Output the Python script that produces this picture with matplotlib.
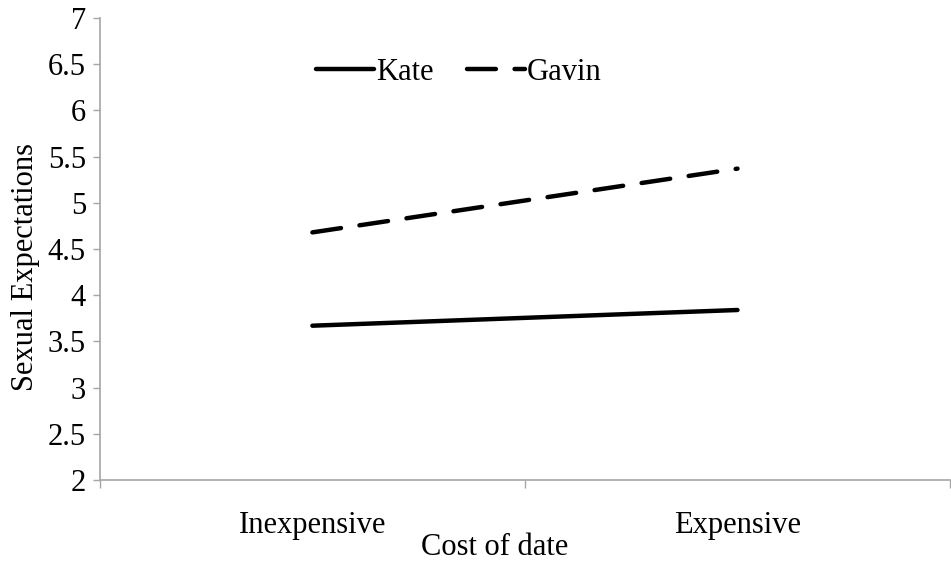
import matplotlib.pyplot as plt
import numpy as np

# Data
categories = ['Inexpensive', 'Expensive']
kate = [3.67, 3.84]
gavin = [4.68, 5.37]
y_ticks = [2, 2.5, 3, 3.5, 4, 4.5, 5, 5.5, 6, 6.5, 7]

plt.rcParams['font.family'] = ['Liberation Serif', 'DejaVu Serif']

fig = plt.figure(figsize=(9.51, 5.63), dpi=100)
ax = fig.add_axes([0.105, 0.1474, 0.894, 0.8206])

x = np.arange(len(categories))
ax.plot(x, kate, color='black', lw=3.2, solid_capstyle='round', label='Kate')
ax.plot(x, gavin, color='black', lw=3.2, linestyle=(0, (6.5, 4.2)),
        dash_capstyle='round', label='Gavin')

ax.set_xlim(-0.5, 1.5)
ax.set_ylim(2, 7)
ax.set_yticks(y_ticks)
ax.set_yticklabels([f'{v:g}' for v in y_ticks])

# boundary ticks as major, category names as minor ticks
ax.set_xticks([-0.5, 0.5, 1.5])
ax.set_xticklabels(['', '', ''])
ax.set_xticks(x, minor=True)
ax.set_xticklabels(categories, minor=True)
ax.tick_params(axis='x', which='minor', length=0, pad=22, labelsize=22)
ax.tick_params(axis='x', which='major', length=6, width=1, color='#a6a6a6')
ax.tick_params(axis='y', length=5, width=1, color='#a6a6a6', labelsize=22, pad=5)

for side in ['top', 'right']:
    ax.spines[side].set_visible(False)
for side in ['left', 'bottom']:
    ax.spines[side].set_color('#a6a6a6')
    ax.spines[side].set_linewidth(1.2)

ax.set_ylabel('Sexual Expectations', fontsize=22)
ax.yaxis.set_label_coords(-0.07, 0.46)
ax.set_xlabel('Cost of date', fontsize=22)
ax.xaxis.set_label_coords(0.464, -0.115)

ax.legend(loc='upper left', bbox_to_anchor=(0.24, 0.94), ncol=2, frameon=False,
          fontsize=22, handlelength=1.9, handletextpad=0.05, columnspacing=1.1,
          borderaxespad=0)

fig.savefig('out.png', dpi=100)
